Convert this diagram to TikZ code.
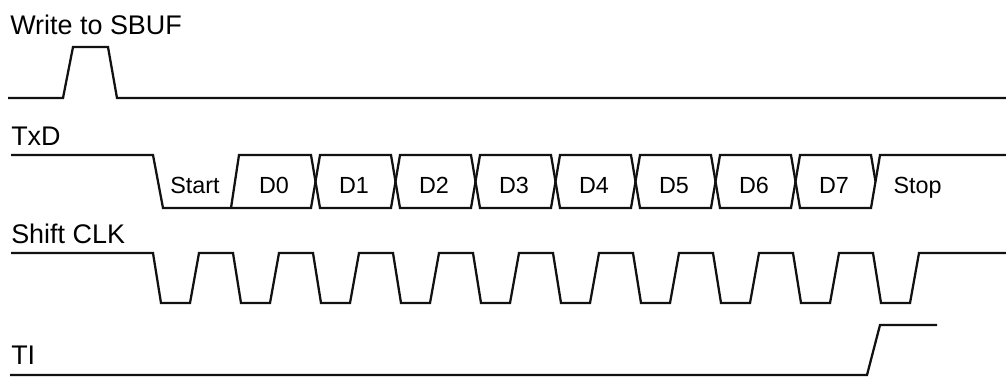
\documentclass[tikz,border=0pt]{standalone}
\usepackage{fontspec}
\setmainfont{Liberation Sans}
\usetikzlibrary{positioning}
\definecolor{waveLine}{HTML}{111111}

\begin{document}
\begin{tikzpicture}[
  x=0.75pt, y=-0.75pt,
  wave/.style={draw=waveLine, line width=1.7pt},
  sig/.style={anchor=base west, inner sep=0pt,
              font=\fontsize{20.2}{24}\selectfont},
  cell/.style={anchor=base, inner sep=0pt,
               font=\fontsize{17.5}{21}\selectfont}
]
\useasboundingbox (0,0) rectangle (1006,376);

\node[sig] (sbuf) at (10,34) {Write to SBUF};
\node[sig] (txd) at (11,145) {TxD};
\node[sig] (clk) at (11,243) {Shift CLK};
\node[sig] (ti) at (11,364) {TI};

% write pulse
\draw[wave] (8,98) -- (63,98) -- (73,47) -- (108,47) -- (117,98) -- (1006,98);

% TxD bus
\draw[wave] (11,155) -- (153,155) -- (163,208) -- (231,208);
\draw[wave] (231,208) -- (239,155) -- (311,155) -- (315.5,181.5)
  -- (311,208) -- (231,208);
\foreach \k in {1,...,7}
  \draw[wave] ({235.5+80*\k},181.5) -- ({240+80*\k},155) -- ({311+80*\k},155)
    -- ({315.5+80*\k},181.5) -- ({311+80*\k},208) -- ({240+80*\k},208) -- cycle;
\draw[wave] (875.5,181.5) -- (880,155) -- (1006,155);

\node[cell] (start) at (195,193.5) {Start};
\foreach \i in {0,...,7}
  \node[cell] (d\i) at ({274+80*\i},193.5) {D\i};
\node[cell] (stop) at (917.5,193.5) {Stop};

% shift clock
\draw[wave] (11,253) \foreach \k in {0,...,9} {
    -- ({153+80*\k},253) -- ({161+80*\k},303) -- ({190+80*\k},303)
    -- ({199+80*\k},253) } -- (1006,253);

% TI flag
\draw[wave] (10,375) -- (867,375) -- (880,325) -- (937,325);
\end{tikzpicture}
\end{document}
